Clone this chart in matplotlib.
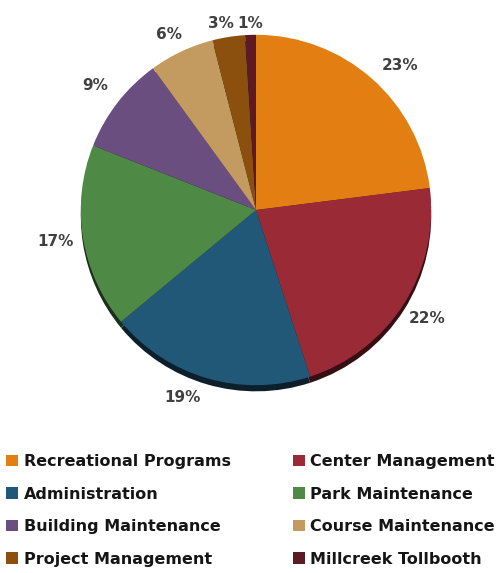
import matplotlib.pyplot as plt
from matplotlib.patches import Patch
from matplotlib.colors import to_rgb

categorias = ['Recreational Programs', 'Center Management', 'Administration',
              'Park Maintenance', 'Building Maintenance', 'Course Maintenance',
              'Project Management', 'Millcreek Tollbooth']
porcentajes = [23, 22, 19, 17, 9, 6, 3, 1]
colores = ['#E37E12', '#9B2A37', '#215878', '#4E8A45',
           '#6A4E80', '#C39A60', '#8B500E', '#5E1A24']

plt.rcParams['font.family'] = ['DejaVu Sans']
plt.rcParams['font.weight'] = 'bold'

fig = plt.figure(figsize=(5.03, 5.73), dpi=100)
ax = fig.add_axes([37 / 503, 144 / 573, 438 / 503, 438 / 573])

# sombra debajo del pastel
oscuros = [tuple(c * 0.35 for c in to_rgb(col)) for col in colores]
ax.pie(porcentajes, colors=oscuros, startangle=90, counterclock=False,
       center=(0, -0.035), radius=1.0)

wedges, textos = ax.pie(porcentajes, colors=colores, startangle=90,
                        counterclock=False, radius=1.0,
                        labels=[f'{p}%' for p in porcentajes],
                        labeldistance=1.16,
                        textprops=dict(color='#404040', fontsize=11,
                                       fontweight='bold'))
for t in textos:
    t.set_ha('center')

# pequeños corrimientos de etiquetas (en unidades del radio)
ajustes = {0: (0.057, -0.046), 2: (-0.097, 0.046), 5: (0.0, -0.05)}
for i, (dx, dy) in ajustes.items():
    x, y = textos[i].get_position()
    textos[i].set_position((x + dx, y + dy))
# las dos ultimas etiquetas van juntas sobre el borde superior
textos[6].set_position((-0.20, 1.063))
textos[7].set_position((-0.034, 1.063))

ax.set_xlim(-1.25, 1.25)
ax.set_ylim(-1.25, 1.25)
ax.set_aspect('equal')
ax.axis('off')

orden = [0, 2, 4, 6, 1, 3, 5, 7]
handles = [Patch(facecolor=colores[i], edgecolor='none') for i in orden]
nombres = [categorias[i] for i in orden]
fig.legend(handles, nombres, ncol=2, loc='upper left',
           bbox_to_anchor=(6 / 503, 1 - 454 / 573), frameon=False,
           fontsize=11.5, handlelength=0.75, handleheight=0.75,
           handletextpad=0.35, labelspacing=1.1, columnspacing=3.9,
           borderaxespad=0, borderpad=0, labelcolor='#151515')

fig.savefig('out.png', dpi=100)
